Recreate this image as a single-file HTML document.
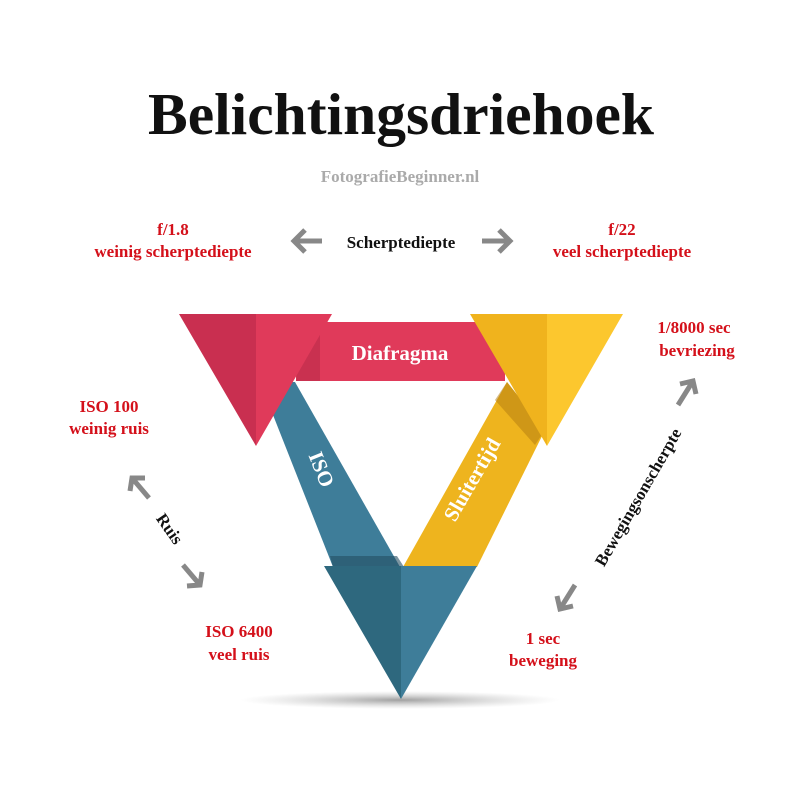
<!DOCTYPE html>
<html><head><meta charset="utf-8"><style>
html,body{margin:0;padding:0;background:#fff;}
svg{display:block;}
text{font-family:"Liberation Serif",serif;font-weight:bold;}
</style></head><body>
<svg width="800" height="800" viewBox="0 0 800 800" xmlns="http://www.w3.org/2000/svg">
<defs>
<radialGradient id="sh" cx="0.5" cy="0.5" r="0.5">
<stop offset="0" stop-color="#888" stop-opacity="0.8"/>
<stop offset="1" stop-color="#bbb" stop-opacity="0"/>
</radialGradient>
</defs>
<text x="401" y="134" font-size="59" text-anchor="middle" fill="#111" textLength="506" lengthAdjust="spacingAndGlyphs">Belichtingsdriehoek</text>
<text x="400" y="182" font-size="17" text-anchor="middle" fill="#aaa">FotografieBeginner.nl</text>

<g fill="#d4101a" font-size="17" text-anchor="middle">
<text x="173" y="235">f/1.8</text>
<text x="173" y="257">weinig scherptediepte</text>
<text x="622" y="235">f/22</text>
<text x="622" y="257">veel scherptediepte</text>
<text x="109" y="412">ISO 100</text>
<text x="109" y="434">weinig ruis</text>
<text x="239" y="637">ISO 6400</text>
<text x="239" y="660">veel ruis</text>
<text x="694" y="333">1/8000 sec</text>
<text x="697" y="356">bevriezing</text>
<text x="543" y="644">1 sec</text>
<text x="543" y="666">beweging</text>
</g>
<text x="401" y="248" font-size="17" text-anchor="middle" fill="#111">Scherptediepte</text>
<text transform="translate(165,532) rotate(55)" font-size="17" text-anchor="middle" fill="#111">Ruis</text>
<text transform="translate(643,500) rotate(-60)" font-size="17" text-anchor="middle" fill="#111">Bewegingsonscherpte</text>

<g stroke="#888" stroke-width="5" fill="none" stroke-linecap="butt">
<path d="M322 241H294M305 230L294 241L305 252"/>
<path d="M482 241H510M499 230L510 241L499 252"/>
<path d="M149 498L132 478M130 491L132 478L145 478"/>
<path d="M183 565L200 585M187 586L200 585L202 572"/>
<path d="M678 405L693 381M680 384L693 381L696 394"/>
<path d="M575 585L560 609M557 596L560 609L573 606"/>
</g>

<ellipse cx="400" cy="700" rx="160" ry="9" fill="url(#sh)"/>

<polygon points="296,322 505,322 505,381 296,381" fill="#e03a5a"/>
<polygon points="260,382 295,382 400,567 333,567" fill="#3e7d99"/>
<polygon points="403,567 507,382 545,430 477,567" fill="#eeb41e"/>
<polygon points="330,556 397,556 404,567 333,567" fill="#244f63" opacity="0.6"/>
<polygon points="495,400 507,382 545,430 535,445" fill="#b07a10" opacity="0.5"/>
<polygon points="300,330 320,322 320,381 296,381" fill="#a82640" opacity="0.4"/>

<polygon points="179,314 256,314 256,446" fill="#c92f50"/>
<polygon points="256,314 332,314 256,446" fill="#e03a5a"/>
<polygon points="470,314 547,314 547,446" fill="#f0b31d"/>
<polygon points="547,314 623,314 547,446" fill="#fcc72e"/>
<polygon points="324,566 401,566 401,699" fill="#2e687e"/>
<polygon points="401,566 477,566 401,699" fill="#3e7d99"/>

<text x="400" y="360" font-size="21" text-anchor="middle" fill="#fff">Diafragma</text>
<text transform="translate(315,472) rotate(68)" font-size="21" text-anchor="middle" fill="#fff">ISO</text>
<text transform="translate(478,483) rotate(-60)" font-size="21" text-anchor="middle" fill="#fff">Sluitertijd</text>
</svg>
</body></html>
